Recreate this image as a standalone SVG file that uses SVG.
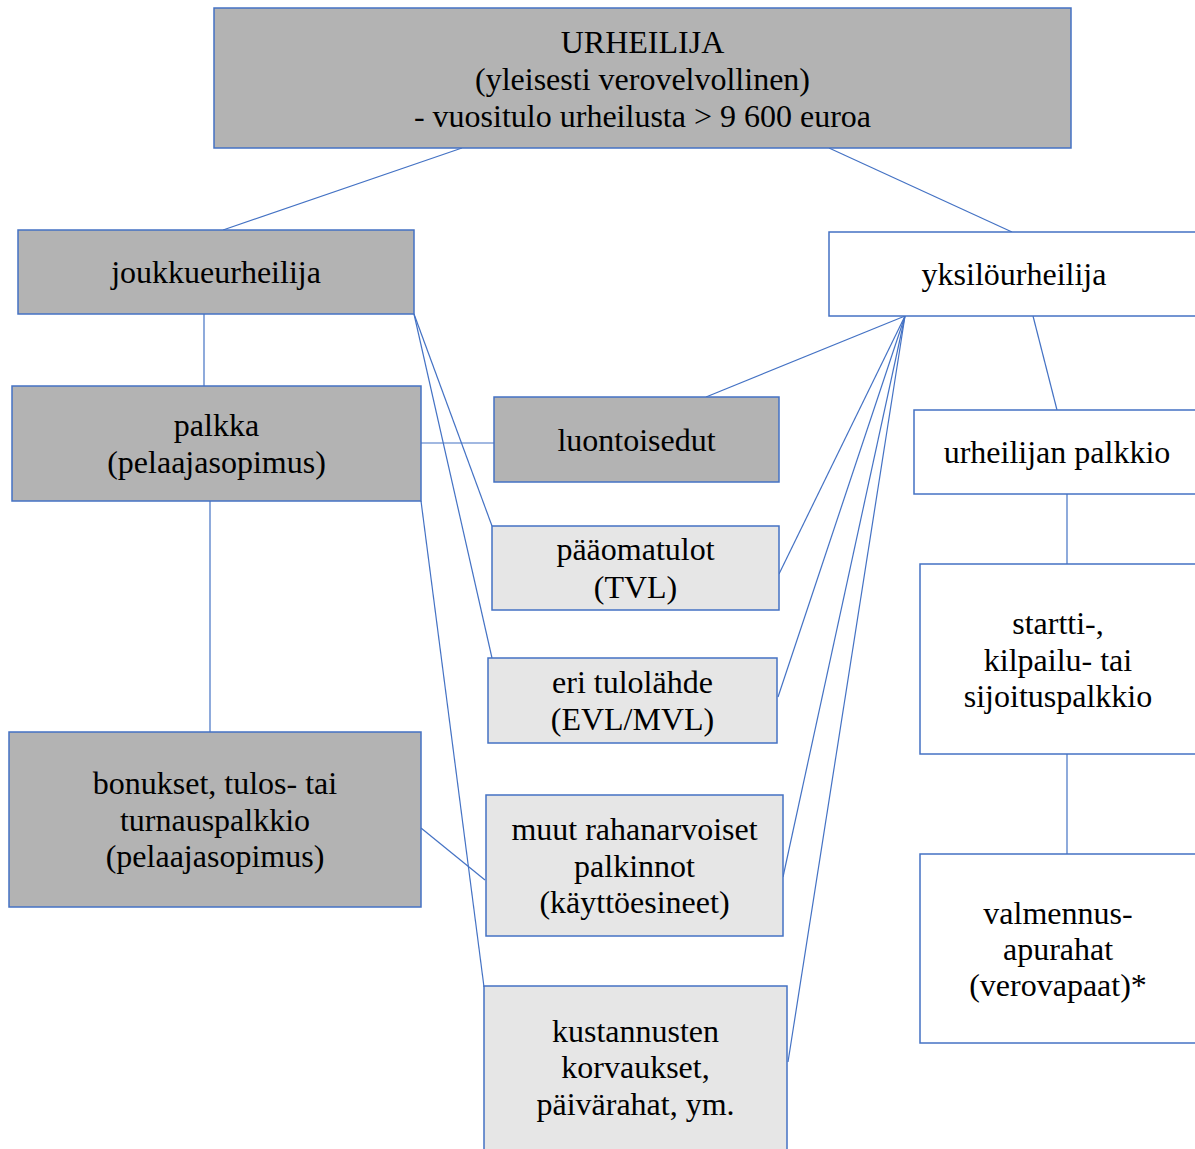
<svg xmlns="http://www.w3.org/2000/svg" width="1195" height="1149" viewBox="0 0 1195 1149">
<style>
.dark{fill:#b3b3b3;stroke:#4472c4;stroke-width:1.5}
.light{fill:#e6e6e6;stroke:#4472c4;stroke-width:1.5}
.white{fill:#ffffff;stroke:#4472c4;stroke-width:1.5}
.conn line{stroke:#4472c4;stroke-width:1.2;fill:none}
text{font-family:"Liberation Serif","Times New Roman",serif;font-size:32px;fill:#000;text-anchor:middle}
</style>
<rect width="1195" height="1149" fill="#ffffff"/>
<g id="connectors" class="conn">
<line x1="462" y1="148" x2="223" y2="230"/>
<line x1="829" y1="148" x2="1012" y2="232"/>
<line x1="204" y1="314" x2="204" y2="386"/>
<line x1="210" y1="501" x2="210" y2="732"/>
<line x1="421" y1="443" x2="494" y2="443"/>
<line x1="414" y1="314" x2="492" y2="526"/>
<line x1="414" y1="314" x2="492" y2="658"/>
<line x1="421" y1="501" x2="484" y2="987"/>
<line x1="421" y1="828" x2="485" y2="880"/>
<line x1="905" y1="316" x2="706" y2="397"/>
<line x1="905" y1="316" x2="779" y2="574"/>
<line x1="905" y1="316" x2="778" y2="697"/>
<line x1="905" y1="316" x2="783" y2="877"/>
<line x1="905" y1="316" x2="788" y2="1062"/>
<line x1="1033" y1="316" x2="1057" y2="410"/>
<line x1="1067" y1="494" x2="1067" y2="564"/>
<line x1="1067" y1="754" x2="1067" y2="854"/>
</g>
<g id="urheilija">
<rect class="dark" x="214" y="8" width="857" height="140"/>
<text x="642.5" y="53">URHEILIJA</text>
<text x="642.5" y="90">(yleisesti verovelvollinen)</text>
<text x="642.5" y="127">- vuositulo urheilusta &gt; 9 600 euroa</text>
</g>
<g id="joukkueurheilija">
<rect class="dark" x="18" y="230" width="396" height="84"/>
<text x="216" y="283">joukkueurheilija</text>
</g>
<g id="yksilourheilija">
<rect class="white" x="829" y="232" width="371" height="84"/>
<text x="1014" y="285">yksilöurheilija</text>
</g>
<g id="palkka">
<rect class="dark" x="12" y="386" width="409" height="115"/>
<text x="216.5" y="436">palkka</text>
<text x="216.5" y="473">(pelaajasopimus)</text>
</g>
<g id="bonukset">
<rect class="dark" x="9" y="732" width="412" height="175"/>
<text x="215" y="794">bonukset, tulos- tai</text>
<text x="215" y="831">turnauspalkkio</text>
<text x="215" y="867">(pelaajasopimus)</text>
</g>
<g id="luontoisedut">
<rect class="dark" x="494" y="397" width="285" height="85"/>
<text x="636.5" y="451">luontoisedut</text>
</g>
<g id="paaomatulot">
<rect class="light" x="492" y="526" width="287" height="84"/>
<text x="635.5" y="560">pääomatulot</text>
<text x="635.5" y="598">(TVL)</text>
</g>
<g id="eri-tulolahde">
<rect class="light" x="488" y="658" width="289" height="85"/>
<text x="632.5" y="693">eri tulolähde</text>
<text x="632.5" y="730">(EVL/MVL)</text>
</g>
<g id="muut">
<rect class="light" x="486" y="795" width="297" height="141"/>
<text x="634.5" y="840">muut rahanarvoiset</text>
<text x="634.5" y="877">palkinnot</text>
<text x="634.5" y="913">(käyttöesineet)</text>
</g>
<g id="kustannusten">
<rect class="light" x="484" y="986" width="303" height="170"/>
<text x="635.5" y="1042">kustannusten</text>
<text x="635.5" y="1078">korvaukset,</text>
<text x="635.5" y="1115">päivärahat, ym.</text>
</g>
<g id="urheilijan-palkkio">
<rect class="white" x="914" y="410" width="286" height="84"/>
<text x="1057" y="463">urheilijan palkkio</text>
</g>
<g id="startti">
<rect class="white" x="920" y="564" width="280" height="190"/>
<text x="1058" y="634">startti-,</text>
<text x="1058" y="671">kilpailu- tai</text>
<text x="1058" y="707">sijoituspalkkio</text>
</g>
<g id="valmennus">
<rect class="white" x="920" y="854" width="280" height="189"/>
<text x="1058" y="924">valmennus-</text>
<text x="1058" y="960">apurahat</text>
<text x="1058" y="996">(verovapaat)*</text>
</g>
</svg>
